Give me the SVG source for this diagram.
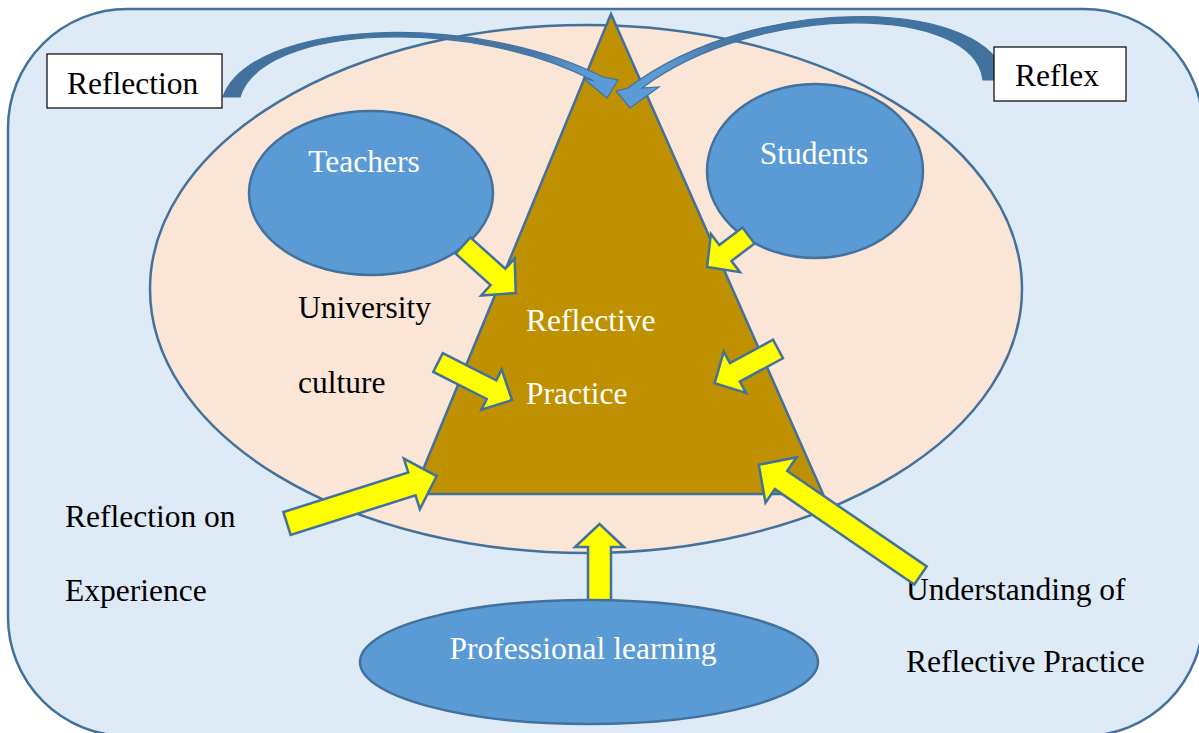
<svg xmlns="http://www.w3.org/2000/svg" width="1199" height="733" viewBox="0 0 1199 733">
  <style>
    .frame { fill: #DEEAF6; stroke: #41719C; stroke-width: 2.5; }
    .context { fill: #FBE5D6; stroke: #41719C; stroke-width: 2.5; }
    .core { fill: #BF9000; stroke: #41719C; stroke-width: 2.5; stroke-linejoin: miter; }
    .actor { fill: #5B9BD5; stroke: #41719C; stroke-width: 2.5; }
    .box { fill: #FFFFFF; stroke: #000000; stroke-width: 1.2; }
    .push { fill: #FFFF00; stroke: #41719C; stroke-width: 2.5; stroke-linejoin: miter; }
    .loop { stroke: #41719C; stroke-width: 1.2; stroke-linejoin: miter; }
    text { font-family: "Liberation Serif", "Times New Roman", serif; font-size: 31.5px; }
    .dark { fill: #000000; }
    .light { fill: #FFFFFF; }
    .mid { text-anchor: middle; }
  </style>
  <defs>
    <linearGradient id="loopLeft" gradientUnits="userSpaceOnUse" x1="223" y1="0" x2="618" y2="0">
      <stop offset="0" stop-color="#41719C"/>
      <stop offset="0.78" stop-color="#4677A8"/>
      <stop offset="0.92" stop-color="#5B9BD5"/>
      <stop offset="1" stop-color="#5B9BD5"/>
    </linearGradient>
    <linearGradient id="loopRight" gradientUnits="userSpaceOnUse" x1="1005" y1="0" x2="616" y2="0">
      <stop offset="0" stop-color="#41719C"/>
      <stop offset="0.72" stop-color="#4677A8"/>
      <stop offset="0.88" stop-color="#5B9BD5"/>
      <stop offset="1" stop-color="#5B9BD5"/>
    </linearGradient>
  </defs>

  <!-- background frame and context ellipse -->
  <g id="frame">
    <rect class="frame" x="8" y="9" width="1195" height="727" rx="119" ry="119"/>
  </g>
  <g id="university-context">
    <ellipse class="context" cx="586" cy="289" rx="436" ry="264"/>
  </g>

  <!-- central triangle -->
  <g id="reflective-practice">
    <polygon class="core" points="611,14 823,494 413,494"/>
    <text class="light" x="526" y="331">Reflective</text>
    <text class="light" x="526" y="404">Practice</text>
  </g>

  <g id="teachers">
    <ellipse class="actor" cx="371" cy="193" rx="122" ry="82"/>
    <text class="light mid" x="364" y="172">Teachers</text>
  </g>

  <g id="students">
    <ellipse class="actor" cx="815" cy="171" rx="108" ry="87"/>
    <text class="light mid" x="814" y="164">Students</text>
  </g>

  <g id="university-culture">
    <text class="dark" x="298" y="318">University</text>
    <text class="dark" x="298" y="393">culture</text>
  </g>

  <g id="reflection-on-experience">
    <text class="dark" x="65" y="527">Reflection on</text>
    <text class="dark" x="65" y="601">Experience</text>
  </g>

  <g id="understanding">
    <text class="dark" x="906" y="600">Understanding of</text>
    <text class="dark" x="906" y="672">Reflective Practice</text>
  </g>

  <!-- connectors -->
  <g id="connectors">
    <!-- curved feedback arrows -->
    <path class="loop" fill="url(#loopLeft)" d="M223,97 C250,20 470,10 603,77 L618,80 L607,98 L583,78 L594,81 C470,16 262,24 240,97 Z"/>
    <path class="loop" fill="url(#loopRight)" d="M1005,80 C995,0 760,-12 628,88 L616,91 L630,108 L659,87 L642,88 C760,0 975,5 983,80 Z"/>

    <!-- block arrows into the triangle -->
    <polygon class="push" transform="translate(463,245.5) rotate(42)" points="0,-11 47,-11 47,-25 71,0 47,25 47,11 0,11"/>
    <polygon class="push" transform="translate(748.5,235.5) rotate(142.8)" points="0,-10 29,-10 29,-24 52,0 29,24 29,10 0,10"/>
    <polygon class="push" transform="translate(438,362.5) rotate(26.9)" points="0,-10.5 60,-10.5 60,-22.5 83,0 60,22.5 60,10.5 0,10.5"/>
    <polygon class="push" transform="translate(778,349) rotate(151.6)" points="0,-10.5 49,-10.5 49,-23.5 72,0 49,23.5 49,10.5 0,10.5"/>
    <polygon class="push" transform="translate(287,523.5) rotate(-17.6)" points="0,-12 131,-12 131,-26.5 157,0 131,26.5 131,12 0,12"/>
    <polygon class="push" transform="translate(920.5,575.5) rotate(214.4)" points="0,-11 169,-11 169,-27.5 196,0 169,27.5 169,11 0,11"/>
    <polygon class="push" points="588,606 588,547 575,547 599.5,524 624,547 611,547 611,606"/>
  </g>

  <g id="professional-learning">
    <ellipse class="actor" cx="589" cy="662" rx="229" ry="62"/>
    <text class="light mid" x="583" y="659">Professional learning</text>
  </g>

  <g id="reflection-box">
    <rect class="box" x="47" y="54" width="175" height="54"/>
    <text class="dark" x="67" y="94">Reflection</text>
  </g>

  <g id="reflex-box">
    <rect class="box" x="994" y="47" width="132" height="54"/>
    <text class="dark" x="1015" y="86">Reflex</text>
  </g>
</svg>
